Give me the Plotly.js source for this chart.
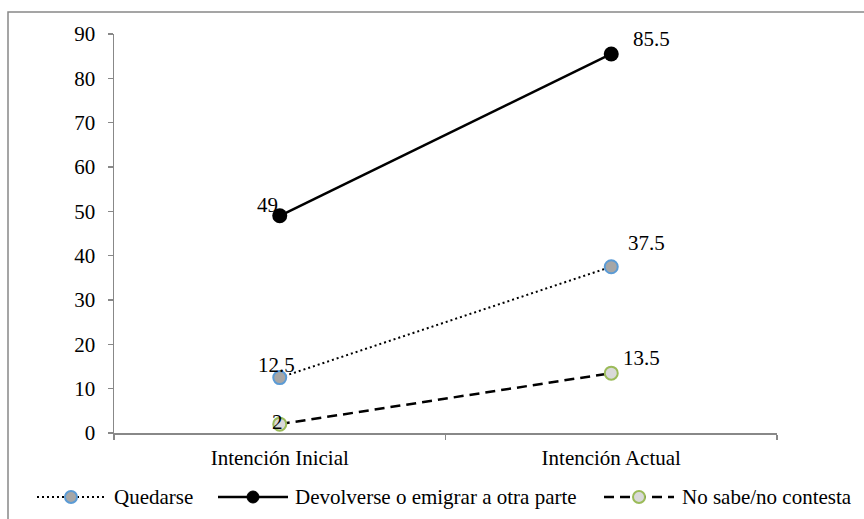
<!DOCTYPE html>
<html>
<head>
<meta charset="utf-8">
<script src="https://cdn.plot.ly/plotly-3.0.1.min.js"></script>
<style>html,body{margin:0;padding:0;background:#fff;}#chart{width:864px;height:519px;}</style>
</head>
<body>
<div id="chart"></div>
<script>
var categories = ["Intención Inicial", "Intención Actual"];
var quedarse = [12.5, 37.5];
var devolverse = [49, 85.5];
var noSabe = [2, 13.5];
var seriesNames = ["Quedarse", "Devolverse o emigrar a otra parte", "No sabe/no contesta"];
var yTicks = [0, 10, 20, 30, 40, 50, 60, 70, 80, 90];

var FONT = "Liberation Serif";
var FS = 21;

var styles = [
  {line: {color: "#000", width: 2, dash: "2px,3px"}, marker: {size: 13, color: "#a6a6a6", line: {color: "#5b9bd5", width: 2}}},
  {line: {color: "#000", width: 2.5, dash: "solid"}, marker: {size: 15, color: "#000", line: {color: "#000", width: 0}}},
  {line: {color: "#000", width: 2.5, dash: "10px,6px"}, marker: {size: 13, color: "#d9d9d9", line: {color: "#9bbb59", width: 2}}}
];
var allSeries = [quedarse, devolverse, noSabe];

var traces = allSeries.map(function(s, si) {
  return {x: categories, y: s, name: seriesNames[si], type: "scatter", mode: "lines+markers",
    line: styles[si].line, marker: styles[si].marker, showlegend: false};
});

// data label offsets (pixels)
var offsets = [
  [[-3, 13], [35, 24]],
  [[-12, 11], [40, 15]],
  [[-2, 2], [30, 15]]
];
var annotations = [];
allSeries.forEach(function(s, si) {
  s.forEach(function(v, i) {
    annotations.push({
      x: categories[i], y: v, xref: "x", yref: "y", text: String(v), showarrow: false,
      xshift: offsets[si][i][0], yshift: offsets[si][i][1],
      font: {family: FONT, size: FS, color: "#000"}
    });
  });
});

// custom legend (pixel layout converted to paper coords)
var L = 114, T = 34, PW = 663, PH = 399;
function px(x) { return (x - L) / PW; }
function py(y) { return (T + PH - y) / PH; }
var legY = 497;
var legItems = [
  {x0: 37, x1: 105, text: 112, msize: 12},
  {x0: 218, x1: 288, text: 293, msize: 12},
  {x0: 604, x1: 674, text: 680, msize: 12}
];
var shapes = [{
  type: "rect", xref: "paper", yref: "paper",
  x0: px(8), x1: 1.5, y0: -0.5, y1: py(12),
  line: {color: "#888", width: 1.5}, fillcolor: "rgba(0,0,0,0)", layer: "below"
}];
legItems.forEach(function(it, i) {
  var st = styles[i];
  shapes.push({type: "line", xref: "paper", yref: "paper", x0: px(it.x0), x1: px(it.x1), y0: py(legY), y1: py(legY),
    line: {color: st.line.color, width: st.line.width, dash: st.line.dash}});
  var cx = px((it.x0 + it.x1) / 2), r = it.msize / 2;
  shapes.push({type: "circle", xref: "paper", yref: "paper", xsizemode: "pixel", ysizemode: "pixel",
    xanchor: cx, yanchor: py(legY), x0: -r, x1: r, y0: -r, y1: r,
    fillcolor: st.marker.color, line: {color: st.marker.line.width ? st.marker.line.color : st.marker.color, width: st.marker.line.width || 1}});
  annotations.push({xref: "paper", yref: "paper", x: px(it.text), y: py(legY), xanchor: "left", yanchor: "middle",
    text: seriesNames[i], showarrow: false, font: {family: FONT, size: FS, color: "#000"}});
});

var layout = {
  width: 864, height: 519,
  margin: {l: L, r: 864 - L - PW, t: T, b: 519 - T - PH},
  paper_bgcolor: "#fff", plot_bgcolor: "#fff",
  font: {family: FONT, size: FS, color: "#000"},
  showlegend: false,
  xaxis: {
    type: "category", range: [-0.5, 1.5], showgrid: false, zeroline: false,
    showline: true, linecolor: "#888", linewidth: 1.5,
    ticks: "outside", ticklen: 5, tickcolor: "#888", tickwidth: 1.5, tickson: "boundaries",
    ticklabelstandoff: 5,
    tickfont: {family: FONT, size: FS, color: "#000"}, fixedrange: true
  },
  yaxis: {
    range: [0, 90], tickvals: yTicks, showgrid: false, zeroline: false,
    showline: true, linecolor: "#888", linewidth: 1.5,
    ticks: "outside", ticklen: 5, tickcolor: "#888", tickwidth: 1.5,
    ticklabelstandoff: 8,
    tickfont: {family: FONT, size: FS, color: "#000"}, fixedrange: true
  },
  annotations: annotations,
  shapes: shapes
};

Plotly.newPlot("chart", traces, layout, {displayModeBar: false, staticPlot: true});
</script>
</body>
</html>
